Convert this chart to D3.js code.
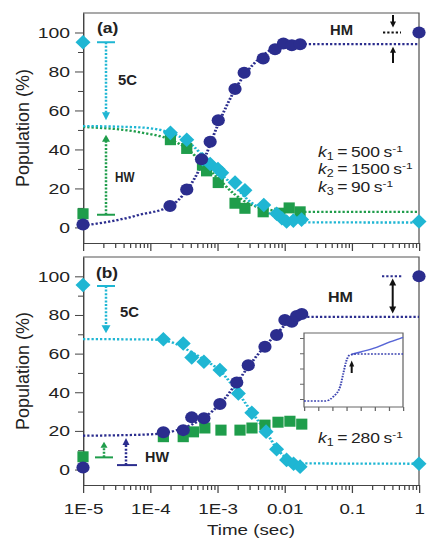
<!DOCTYPE html>
<html>
<head>
<meta charset="utf-8">
<script src="https://cdn.jsdelivr.net/npm/d3@7"></script>
<style>
  body { margin: 0; background: #fff; }
  svg { display: block; }
  text { font-family: "Liberation Sans", Arial, sans-serif; fill: #222; }
</style>
</head>
<body>
<svg id="chart" width="427" height="544"></svg>
<script>
// ticks
const xMajor = [1e-5, 1e-4, 1e-3, 1e-2, 1e-1, 1];
const xLabels = ["1E-5", "1E-4", "1E-3", "0.01", "0.1", "1"];
const yMajor = [0, 20, 40, 60, 80, 100];
const yMinor = [10, 30, 50, 70, 90];

// panel (a) — time in s, population in %
const aHmT = [1e-5, 1.97e-4, 3.5e-4, 5.8e-4, 7.8e-4, 1.03e-3, 1.83e-3, 2.5e-3, 4.8e-3, 7.2e-3, 9.6e-3, 1.28e-2, 1.7e-2, 1];
const aHmV = [1.5, 11, 19.5, 35, 44, 55, 71, 79.4, 86.6, 91.4, 94.4, 93.5, 94, 100];
const aCyT = [1e-5, 2e-4, 3.5e-4, 6e-4, 7.8e-4, 1.02e-3, 1.16e-3, 1.83e-3, 2.57e-3, 4.9e-3, 7.6e-3, 9.1e-3, 1.07e-2, 1.35e-2, 1.79e-2, 1];
const aCyV = [95, 48.5, 45, 35, 32.5, 30, 28, 23, 19, 11.5, 7, 4.7, 3, 3.5, 4, 3];
const aGrT = [1e-5, 2e-4, 3.5e-4, 6e-4, 6.9e-4, 1.03e-3, 1.83e-3, 2.57e-3, 4.8e-3, 8.5e-3, 1.17e-2, 1.7e-2];
const aGrV = [7, 45, 40.5, 32, 29, 23, 12.4, 9.8, 8, 7.3, 10, 8];
// fitted curves, panel (a)
const aHmFitT = [1e-5, 3e-5, 7e-5, 2e-4, 3.5e-4, 6e-4, 1e-3, 2e-3, 4e-3, 8e-3, 2e-2, 1];
const aHmFitV = [1, 3.5, 6.5, 11, 19, 33, 52, 73, 86, 92.5, 94, 94];
const aCyFitT = [1e-5, 7e-5, 2e-4, 3.5e-4, 6e-4, 1e-3, 1.8e-3, 3e-3, 5e-3, 1e-2, 2e-2, 1];
const aCyFitV = [52, 51.3, 48.5, 44.5, 37, 29, 21, 13.5, 8.5, 4, 2.6, 2.5];
const aGrFitT = [1e-5, 7e-5, 2e-4, 3.5e-4, 6e-4, 1e-3, 1.8e-3, 3e-3, 5e-3, 1e-2, 2e-2, 1];
const aGrFitV = [51.5, 48.8, 45, 40.5, 33, 25.5, 17, 12, 9.5, 8.3, 8, 8];

// panel (b)
const bHmT = [1e-5, 1.57e-4, 3.1e-4, 4.15e-4, 6.3e-4, 1.09e-3, 1.94e-3, 2.88e-3, 5.1e-3, 7.6e-3, 1.01e-2, 1.28e-2, 1.51e-2, 1.8e-2, 1];
const bHmV = [1, 19.3, 20.4, 27, 26.5, 33.9, 45, 54, 63.6, 69.6, 77.4, 76.5, 79.5, 80.5, 100];
const bCyT = [1e-5, 1.57e-4, 3.1e-4, 4.15e-4, 6.3e-4, 1.09e-3, 2.05e-3, 3.25e-3, 5.3e-3, 7.6e-3, 1.07e-2, 1.36e-2, 1.7e-2, 1];
const bCyV = [95.5, 67.4, 65.2, 58, 55.8, 51.5, 39.4, 29.4, 19.6, 10.5, 5, 3, 1.5, 3];
const bGrT = [1e-5, 1.57e-4, 3.1e-4, 4.4e-4, 6.5e-4, 1.13e-3, 2.17e-3, 3.27e-3, 5.1e-3, 7.98e-3, 1.2e-2, 1.8e-2];
const bGrV = [6.6, 17, 17, 19.5, 21.5, 20.4, 20.4, 21.5, 23, 24.5, 25, 23.5];
const bHmFitT = [1e-5, 1e-4, 2e-4, 4e-4, 7e-4, 1.1e-3, 2e-3, 3e-3, 5e-3, 8e-3, 1.2e-2, 2e-2, 1];
const bHmFitV = [17.5, 18.2, 19.5, 23, 28, 34, 45.5, 54, 63.5, 71, 77, 79, 79];
const bCyFitT = [1e-5, 1e-4, 2e-4, 4e-4, 7e-4, 1.1e-3, 2e-3, 3.2e-3, 5.3e-3, 8e-3, 1.2e-2, 2e-2, 1];
const bCyFitV = [67.5, 67.3, 66, 61, 56, 51, 40, 30, 19.5, 10, 5, 3.2, 3];

// inset of panel (b), arbitrary units
const insFitX = [0, 1.5, 2.07, 2.55, 2.78, 2.97, 3.25, 3.73, 7];
const insFitY = [-0.13, -0.13, 0.15, 0.8, 1.68, 2.43, 2.89, 2.95, 2.95];
const insObsX = [3.37, 4.07, 5.13, 6.08, 6.66, 7];
const insObsY = [2.93, 3.1, 3.39, 3.74, 3.93, 4.04];

const kTop = [["1", "500"], ["2", "1500"], ["3", "90"]];
const kBottom = [["1", "280"]];

const navy = "#2b2d8e", cyan = "#1fb6d3", green = "#1f9d4b", ink = "#111";

const SX = 1.25;             // the figure is stretched sideways
const ix = v => v / SX;      // page px -> inner units
const svg = d3.select("#chart");
const root = svg.append("g").attr("transform", `scale(${SX},1)`);

const x = d3.scaleLog().domain([1e-5, 1]).range([ix(83), ix(419)]);
const [x0, x1] = x.range();
const isDecade = d => Math.abs(Math.log10(d) - Math.round(Math.log10(d))) < 1e-6;

function frame(g, y, top, bottom, withLabels) {
  g.append("path")
    .attr("d", `M${x0},${top}H${x1}V${bottom}`)
    .attr("fill", "none").attr("stroke", "#555");

  g.append("g").attr("transform", `translate(${x0},0)`)
    .call(d3.axisLeft(y).tickValues(yMajor).tickSize(ix(8)).tickPadding(ix(5)).tickSizeOuter(0));
  g.append("g").attr("transform", `translate(${x0},0)`)
    .call(d3.axisLeft(y).tickValues(yMinor).tickSize(ix(5)).tickFormat("").tickSizeOuter(0));

  g.append("g").attr("class", "xa").attr("transform", `translate(0,${bottom})`)
    .call(d3.axisBottom(x).tickValues(xMajor).tickSize(8).tickPadding(10).tickSizeOuter(0)
      .tickFormat(d => withLabels ? xLabels[xMajor.indexOf(d)] : ""));
  g.append("g").attr("transform", `translate(0,${bottom})`)
    .call(d3.axisBottom(x).tickValues(x.ticks().filter(d => !isDecade(d))).tickSize(5).tickFormat("").tickSizeOuter(0));

  g.selectAll(".domain, .tick line").attr("stroke", "#444");
  g.selectAll(".tick text").attr("fill", "#333").style("font-size", "15.5px");
  g.selectAll(".xa .tick text").style("font-size", "15px");

  svg.append("text")
    .attr("transform", `translate(29,${(top + bottom) / 2}) rotate(-90)`)
    .attr("text-anchor", "middle")
    .style("font-size", "18px").attr("fill", "#333")
    .text("Population (%)");
}

function fit(g, y, ts, vs, color) {
  g.append("path").datum(d3.zip(ts, vs))
    .attr("d", d3.line().x(d => x(d[0])).y(d => y(d[1])).curve(d3.curveMonotoneX))
    .attr("fill", "none").attr("stroke", color)
    .attr("stroke-width", 2.3).attr("stroke-dasharray", "1.8,1.6");
}

function marks(g, y, ts, vs, shape, color) {
  const pts = d3.zip(ts, vs);
  if (shape === "circle") {
    g.append("g").selectAll("ellipse").data(pts).join("ellipse")
      .attr("cx", d => x(d[0])).attr("cy", d => y(d[1]))
      .attr("rx", ix(6.6)).attr("ry", 6).attr("fill", color);
    return;
  }
  const d = shape === "diamond"
    ? `M0,-7.3L${ix(7.5)},0L0,7.3L${-ix(7.5)},0Z`
    : `M${-ix(5.6)},-5.5H${ix(5.6)}V5.5H${-ix(5.6)}Z`;
  g.append("g").selectAll("path").data(pts).join("path")
    .attr("transform", p => `translate(${x(p[0])},${y(p[1])})`)
    .attr("d", d).attr("fill", color);
}

// arrow: stem from yFrom to tip at yTip, head size w x h (page px)
function arrow(g, xPx, yFrom, yTip, color, dotted, w, h) {
  const dir = yTip > yFrom ? 1 : -1;
  const xc = ix(xPx);
  g.append("line")
    .attr("x1", xc).attr("x2", xc).attr("y1", yFrom).attr("y2", yTip - dir * h * 0.8)
    .attr("stroke", color).attr("stroke-width", dotted ? 2 : 1.6)
    .attr("stroke-dasharray", dotted ? "2,1.6" : null);
  g.append("path")
    .attr("d", `M${xc},${yTip}L${xc - ix(w / 2)},${yTip - dir * h}L${xc + ix(w / 2)},${yTip - dir * h}Z`)
    .attr("fill", color);
}

function bar(g, xa, xb, yy, color) {
  g.append("line").attr("x1", ix(xa)).attr("x2", ix(xb)).attr("y1", yy).attr("y2", yy)
    .attr("stroke", color).attr("stroke-width", 2);
}

function hdots(g, xa, xb, yy, color) {
  g.append("line").attr("x1", ix(xa)).attr("x2", ix(xb)).attr("y1", yy).attr("y2", yy)
    .attr("stroke", color).attr("stroke-width", 2).attr("stroke-dasharray", "1.8,1.6");
}

function bold(g, txt, xPx, base, widthPx, size) {
  g.append("text").attr("x", ix(xPx)).attr("y", base)
    .attr("textLength", ix(widthPx)).attr("lengthAdjust", "spacingAndGlyphs")
    .style("font-weight", "bold").style("font-size", size + "px").text(txt);
}

function kLabel(g, xPx, base, sub, val) {
  const t = g.append("text").attr("x", ix(xPx)).attr("y", base).style("font-size", "14px");
  t.append("tspan").style("font-style", "italic").text("k");
  t.append("tspan").attr("dy", 3).style("font-size", "10px").text(sub);
  t.append("tspan").attr("dy", -3).text("\u2009=\u2009" + val + "\u2009s");
  t.append("tspan").attr("dy", -5).style("font-size", "9.5px").text("-1");
}

// ---------- panel (a)
{
  const top = 13, bottom = 243;
  const y = d3.scaleLinear().domain([-8, 110]).range([bottom, top]);
  const g = root.append("g");
  frame(g, y, top, bottom, false);

  fit(g, y, aGrFitT, aGrFitV, green);
  fit(g, y, aCyFitT, aCyFitV, cyan);
  fit(g, y, aHmFitT, aHmFitV, navy);
  marks(g, y, aGrT, aGrV, "square", green);
  marks(g, y, aCyT, aCyV, "diamond", cyan);
  marks(g, y, aHmT, aHmV, "circle", navy);

  bold(g, "(a)", 97, 33, 21.5, 15.5);
  bar(g, 97, 115, y(95), cyan);
  arrow(g, 106, y(95), y(55), cyan, true, 8, 8);
  bold(g, "5C", 118, 85, 19, 15);
  bar(g, 97, 115, y(6.5), green);
  arrow(g, 106, y(6.5), y(47.5), green, true, 8, 7);
  bold(g, "HW", 115, 182.5, 19.5, 15);

  bold(g, "HM", 330, 35, 23, 15);
  hdots(g, 383, 401, y(100), ink);
  arrow(g, 393, 15, y(100) - 5, ink, false, 6, 6);
  arrow(g, 393, 63, y(94) + 2.5, ink, false, 6, 6);

  kTop.forEach((k, i) => kLabel(g, 318, 157 + i * 17.5, k[0], k[1]));
}

// ---------- panel (b)
{
  const top = 257, bottom = 485;
  const y = d3.scaleLinear().domain([-8, 110]).range([bottom, top]);
  const g = root.append("g");
  frame(g, y, top, bottom, true);

  fit(g, y, bCyFitT, bCyFitV, cyan);
  fit(g, y, bHmFitT, bHmFitV, navy);
  marks(g, y, bGrT, bGrV, "square", green);
  marks(g, y, bCyT, bCyV, "diamond", cyan);
  marks(g, y, bHmT, bHmV, "circle", navy);

  bold(g, "(b)", 96, 278.5, 22, 15.5);
  bar(g, 97, 115, y(95), cyan);
  arrow(g, 106, y(95), y(70.5), cyan, true, 9, 8);
  bold(g, "5C", 120, 317, 19, 15);
  bar(g, 95, 113, y(6.3), green);
  arrow(g, 104, y(6.3), y(14.4), green, true, 7, 6);
  bar(g, 117, 137, y(2.3), navy);
  arrow(g, 126, y(2.3), y(16.3), navy, true, 7, 7);
  bold(g, "HW", 145, 462.5, 24, 15);

  hdots(g, 382, 403, y(100), navy);
  arrow(g, 392.7, 297, 278.5, ink, false, 7, 7);
  arrow(g, 392.7, 297, 313.5, ink, false, 7, 7);
  bold(g, "HM", 328, 302, 25, 15);

  kBottom.forEach((k, i) => kLabel(g, 318, 443, k[0], k[1]));

  // inset
  const ixs = d3.scaleLinear().domain([0, 7]).range([ix(304), ix(403)]);
  const iys = d3.scaleLinear().domain([0, 4]).range([399, 338]);
  const ins = g.append("g");
  ins.append("rect").attr("x", ix(304)).attr("y", 333).attr("width", ix(403) - ix(304)).attr("height", 74)
    .attr("fill", "#fff").attr("stroke", "#666");
  ins.append("g").attr("transform", `translate(${ix(304)},0)`)
    .call(d3.axisLeft(iys).tickValues([0, 1, 2, 3, 4]).tickSize(ix(4)).tickFormat("").tickSizeOuter(0));
  ins.append("g").attr("transform", "translate(0,407)")
    .call(d3.axisBottom(ixs).tickValues(d3.range(0, 8)).tickSize(4).tickFormat("").tickSizeOuter(0));
  ins.selectAll(".domain").remove();
  ins.selectAll(".tick line").attr("stroke", "#666");
  const il = d3.line().x(d => ixs(d[0])).y(d => iys(d[1])).curve(d3.curveMonotoneX);
  ins.append("path").datum(d3.zip(insObsX, insObsY)).attr("d", il)
    .attr("fill", "none").attr("stroke", "#5866d6").attr("stroke-width", 1.4);
  ins.append("path").datum(d3.zip(insFitX, insFitY)).attr("d", il)
    .attr("fill", "none").attr("stroke", "#3a42b0").attr("stroke-width", 1.6).attr("stroke-dasharray", "1.5,1.2");
  arrow(ins, 351.7, 373, 360.5, ink, false, 5, 6);
}

root.append("text")
  .attr("x", x(Math.sqrt(1e-5))).attr("y", 535)
  .attr("text-anchor", "middle").attr("fill", "#333")
  .style("font-size", "15px").text("Time (sec)");
</script>
</body>
</html>
